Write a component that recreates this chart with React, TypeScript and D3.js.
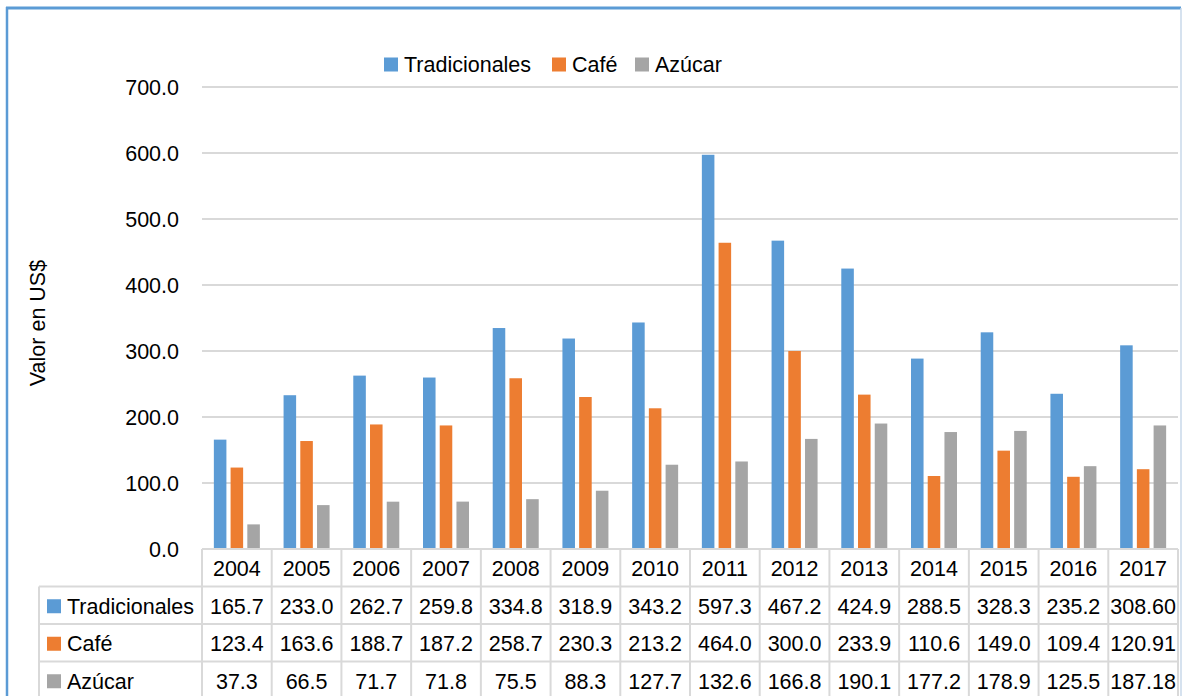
import * as d3 from "d3";
import React from "react";

const years = ["2004", "2005", "2006", "2007", "2008", "2009", "2010", "2011", "2012", "2013", "2014", "2015", "2016", "2017"];
const seriesNames = ["Tradicionales", "Café", "Azúcar"];
const tradicionales = [165.7, 233.0, 262.7, 259.8, 334.8, 318.9, 343.2, 597.3, 467.2, 424.9, 288.5, 328.3, 235.2, 308.6];
const cafe = [123.4, 163.6, 188.7, 187.2, 258.7, 230.3, 213.2, 464.0, 300.0, 233.9, 110.6, 149.0, 109.4, 120.91];
const azucar = [37.3, 66.5, 71.7, 71.8, 75.5, 88.3, 127.7, 132.6, 166.8, 190.1, 177.2, 178.9, 125.5, 187.18];
const tableLabels = [
  ["165.7", "233.0", "262.7", "259.8", "334.8", "318.9", "343.2", "597.3", "467.2", "424.9", "288.5", "328.3", "235.2", "308.60"],
  ["123.4", "163.6", "188.7", "187.2", "258.7", "230.3", "213.2", "464.0", "300.0", "233.9", "110.6", "149.0", "109.4", "120.91"],
  ["37.3", "66.5", "71.7", "71.8", "75.5", "88.3", "127.7", "132.6", "166.8", "190.1", "177.2", "178.9", "125.5", "187.18"],
];
const yTicks = [0, 100, 200, 300, 400, 500, 600, 700];
const colors = ["#5b9bd5", "#ed7d31", "#a5a5a5"];

const W = 1182;
const H = 696;
const plotLeft = 202;
const plotRight = 1178;
const plotTop = 87;
const plotBottom = 549;
const rowH = 37.5;
const tableLeft = 39;
const font = "'Liberation Sans', Arial, sans-serif";
const fs = 21.5;

export default function App() {
  const values = [tradicionales, cafe, azucar];
  const x = d3.scaleBand<string>().domain(years).range([plotLeft, plotRight]).padding(0);
  const y = d3.scaleLinear().domain([0, 700]).range([plotBottom, plotTop]);
  const groupW = 46;
  const x1 = d3.scaleBand<string>().domain(seriesNames).range([0, groupW]).paddingInner(0.25);
  const cw = x.bandwidth();
  const grid = "#d9d9d9";

  const legendItems = [
    { name: "Tradicionales", x: 384 },
    { name: "Café", x: 552 },
    { name: "Azúcar", x: 635 },
  ];

  return (
    <svg width={W} height={H} style={{ position: "absolute", left: 0, top: 0, background: "#fff" }} fontFamily={font}>
      <rect x={0} y={0} width={W} height={H} fill="#fff" />
      {/* outer frame */}
      <line x1={6} x2={1181} y1={8} y2={8} stroke="#5b9bd5" strokeWidth={3} />
      <line x1={7} x2={7} y1={7} y2={H} stroke="#5b9bd5" strokeWidth={2.5} />
      <line x1={1181} x2={1181} y1={8} y2={H} stroke="#c9d9ea" strokeWidth={1.5} />

      {/* gridlines + y labels */}
      {yTicks.map((t) => (
        <g key={t}>
          {t > 0 && <line x1={plotLeft} x2={plotRight} y1={y(t)} y2={y(t)} stroke={grid} strokeWidth={2} />}
          <text x={179} y={y(t)} dy="0.35em" textAnchor="end" fontSize={fs} fill="#000">
            {d3.format(".1f")(t)}
          </text>
        </g>
      ))}

      <text transform={`translate(37,${(plotTop + plotBottom) / 2 + 5}) rotate(-90)`} textAnchor="middle" dy="0.35em" fontSize={fs} fill="#000">
        Valor en US$
      </text>

      {/* bars */}
      {years.map((yr, i) => (
        <g key={yr} transform={`translate(${(x(yr) as number) + (cw - groupW) / 2},0)`}>
          {seriesNames.map((s, j) => (
            <rect
              key={s}
              x={x1(s)}
              y={y(values[j][i])}
              width={x1.bandwidth()}
              height={plotBottom - y(values[j][i])}
              fill={colors[j]}
            />
          ))}
        </g>
      ))}

      {/* legend */}
      {legendItems.map((it, j) => (
        <g key={it.name}>
          <rect x={it.x} y={57.5} width={14} height={14} fill={colors[j]} />
          <text x={it.x + 20} y={64.5} dy="0.35em" fontSize={fs} fill="#000">
            {it.name}
          </text>
        </g>
      ))}

      {/* data table */}
      <g stroke={grid} strokeWidth={2}>
        <line x1={plotLeft} x2={plotRight} y1={plotBottom} y2={plotBottom} />
        {[1, 2, 3, 4].map((r) => (
          <line key={r} x1={tableLeft} x2={plotRight} y1={plotBottom + r * rowH} y2={plotBottom + r * rowH} />
        ))}
        {years.map((yr) => (
          <line key={yr} x1={x(yr)} x2={x(yr)} y1={plotBottom} y2={H} />
        ))}
        <line x1={plotRight} x2={plotRight} y1={plotBottom} y2={H} />
        <line x1={tableLeft} x2={tableLeft} y1={plotBottom + rowH} y2={H} />
      </g>
      {years.map((yr) => (
        <text key={yr} x={(x(yr) as number) + cw / 2} y={plotBottom + rowH / 2 + 1} dy="0.35em" textAnchor="middle" fontSize={fs} fill="#000">
          {yr}
        </text>
      ))}
      {seriesNames.map((s, j) => {
        const cy = plotBottom + (j + 1) * rowH + rowH / 2 + 1;
        return (
          <g key={s}>
            <rect x={47} y={cy - 7} width={14} height={14} fill={colors[j]} />
            <text x={67} y={cy} dy="0.35em" fontSize={fs} fill="#000">
              {s}
            </text>
            {years.map((yr, i) => (
              <text key={yr} x={(x(yr) as number) + cw / 2} y={cy} dy="0.35em" textAnchor="middle" fontSize={fs} fill="#000">
                {tableLabels[j][i]}
              </text>
            ))}
          </g>
        );
      })}
    </svg>
  );
}
